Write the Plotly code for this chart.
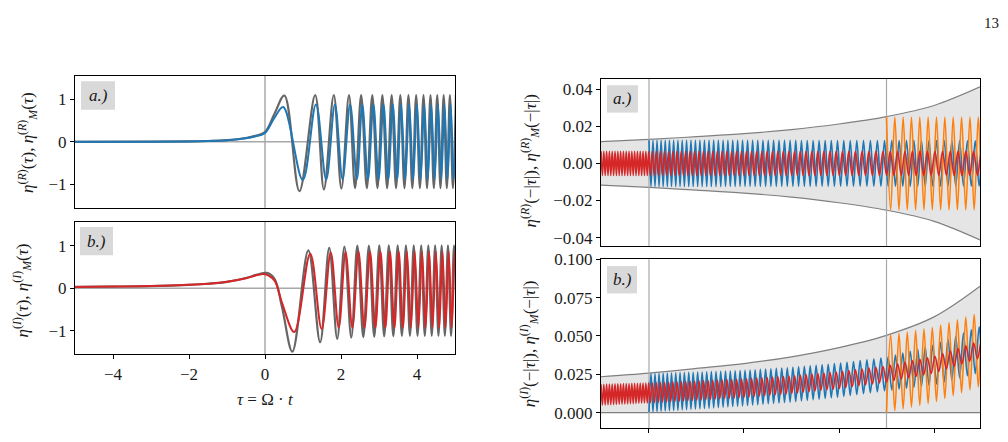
import numpy as np
import plotly.graph_objects as go

# ---------------- data ----------------
# Left panel a.) : curve points (mostly the extrema) of eta^(R) (gray) and eta_M^(R) (blue)
TAU_GRAY_A = [-5.0, -3.0, -2.0, -1.5, -1.0, -0.5, -0.25, 0.0, 0.25, 0.51, 0.905, 1.32, 1.55, 1.81, 2.01, 2.21,
              2.37, 2.53, 2.68, 2.823, 2.959, 3.089, 3.214, 3.333, 3.449, 3.561, 3.670, 3.775, 3.878, 3.978,
              4.076, 4.171, 4.264, 4.355, 4.444, 4.532, 4.618, 4.702, 4.785, 4.866, 4.946, 5.025]
ETA_GRAY_A = [0.0, 0.003, 0.01, 0.02, 0.04, 0.09, 0.14, 0.23, 0.66, 1.09, -1.16, 1.10, -1.12, 1.10, -1.10, 1.10,
              -1.09, 1.10, -1.09, 1.10, -1.09, 1.10, -1.09, 1.10, -1.09, 1.10, -1.09, 1.10, -1.09, 1.10,
              -1.09, 1.10, -1.09, 1.10, -1.09, 1.10, -1.09, 1.10, -1.09, 1.10, -1.09, 1.10]
TAU_BLUE_A = [-5.0, -3.0, -2.0, -1.5, -1.0, -0.5, -0.25, 0.0, 0.25, 0.48, 0.993, 1.34, 1.61, 1.84, 2.04, 2.24,
              2.42, 2.56, 2.71, 2.853, 2.989, 3.119, 3.244, 3.363, 3.479, 3.581, 3.690, 3.795, 3.898, 3.998,
              4.096, 4.191, 4.284, 4.375, 4.464, 4.552, 4.638, 4.722, 4.805, 4.886, 4.966, 5.045]
ETA_BLUE_A = [0.0, 0.003, 0.01, 0.02, 0.04, 0.085, 0.13, 0.21, 0.57, 0.82, -0.90, 0.88, -0.89, 0.88, -0.88, 0.88,
              -0.88, 0.88, -0.88, 0.88, -0.88, 0.88, -0.88, 0.88, -0.88, 0.88, -0.88, 0.88, -0.88, 0.88,
              -0.88, 0.88, -0.88, 0.88, -0.88, 0.88, -0.88, 0.88, -0.88, 0.88, -0.88, 0.88]

# Left panel b.) : eta^(I) (gray) and eta_M^(I) (red)
TAU_GRAY_B = [-5.0, -4.0, -3.0, -2.0, -1.5, -1.0, -0.5, -0.2, 0.05, 0.25, 0.45, 0.72, 1.14, 1.45, 1.69, 1.90,
              2.09, 2.27, 2.43, 2.587, 2.734, 2.874, 3.008, 3.136, 3.258, 3.377, 3.491, 3.602, 3.709, 3.814,
              3.915, 4.014, 4.111, 4.205, 4.298, 4.388, 4.477, 4.564, 4.649, 4.733, 4.815, 4.896, 4.975, 5.054]
ETA_GRAY_B = [0.03, 0.038, 0.05, 0.08, 0.105, 0.15, 0.24, 0.32, 0.36, 0.22, -0.45, -1.49, 0.89, -1.27, 0.95, -1.19,
              0.98, -1.16, 1.00, -1.15, 1.00, -1.14, 1.01, -1.13, 1.01, -1.13, 1.01, -1.12, 1.01, -1.12,
              1.01, -1.12, 1.01, -1.12, 1.01, -1.12, 1.01, -1.12, 1.01, -1.12, 1.01, -1.12, 1.01, -1.12]
TAU_RED_B = [-5.0, -4.0, -3.0, -2.0, -1.5, -1.0, -0.5, -0.2, 0.0, 0.25, 0.45, 0.77, 1.19, 1.49, 1.73, 1.94,
             2.12, 2.30, 2.46, 2.617, 2.764, 2.904, 3.038, 3.166, 3.288, 3.405, 3.519, 3.628, 3.735, 3.839,
             3.939, 4.036, 4.132, 4.225, 4.318, 4.408, 4.497, 4.584, 4.669, 4.752, 4.834, 4.915, 4.994, 5.072]
ETA_RED_B = [0.03, 0.038, 0.05, 0.08, 0.105, 0.15, 0.235, 0.31, 0.33, 0.18, -0.35, -1.03, 0.81, -0.96, 0.84, -0.93,
             0.85, -0.93, 0.86, -0.93, 0.86, -0.93, 0.86, -0.93, 0.86, -0.93, 0.86, -0.93, 0.86, -0.93,
             0.86, -0.93, 0.86, -0.93, 0.86, -0.93, 0.86, -0.93, 0.86, -0.93, 0.86, -0.93, 0.86, -0.93]

LEFT_XTICKS = [-4, -2, 0, 2, 4]
LEFT_XTEXT = ["\u22124", "\u22122", "0", "2", "4"]
LEFT_YTICKS = [-1, 0, 1]
LEFT_YTEXT = ["\u22121", "0", "1"]

# Right panels: envelope, oscillation periods and amplitudes
ENV_X = [-0.505, 0.0, 0.5, 1.0, 1.5, 2.0, 2.5, 3.0, 3.484]
ENV_E = [0.0117, 0.0129, 0.0144, 0.0160, 0.0182, 0.0212, 0.0252, 0.0312, 0.0412]
VLINES_X = [0.0, 2.5]

RED_START = -0.505
RED_PER_X = [-0.505, -0.01, 0.01, 1.0, 2.0, 2.5, 3.484]
RED_PER = [0.0295, 0.0295, 0.042, 0.0526, 0.0663, 0.0768, 0.0832]
BLUE_START = 0.0
BLUE_PER_X = [0.0, 1.0, 2.0, 2.5, 3.484]
BLUE_PER = [0.042, 0.0526, 0.0663, 0.0768, 0.0832]
ORANGE_START = 2.5
ORANGE_PER_X = [2.5, 3.484]
ORANGE_PER = [0.0874, 0.0884]

# amplitudes (panel a: centred on 0, panel b: centred on the envelope E)
RED_AMP_A_X, RED_AMP_A = [-0.505, 3.484], [0.0065, 0.0065]
BLUE_AMP_A_X, BLUE_AMP_A = [0.0, 3.484], [0.0125, 0.0122]
ORANGE_AMP_A_X, ORANGE_AMP_A = [2.5, 3.484], [0.025, 0.025]
RED_AMP_B_X, RED_AMP_B = [-0.505, 0.0, 2.5, 3.484], [0.0068, 0.0065, 0.0052, 0.0055]
BLUE_AMP_B_X, BLUE_AMP_B = [0.0, 1.0, 2.0, 2.5, 3.484], [0.0125, 0.0115, 0.011, 0.0108, 0.015]
ORANGE_AMP_B_X, ORANGE_AMP_B = [2.5, 3.484], [0.025, 0.024]

RIGHT_XTICKS = [0, 1, 2, 3]
RA_YTICKS = [-0.04, -0.02, 0.0, 0.02, 0.04]
RA_YTEXT = ["\u22120.04", "\u22120.02", "0.00", "0.02", "0.04"]
RB_YTICKS = [0.0, 0.025, 0.05, 0.075, 0.1]
RB_YTEXT = ["0.000", "0.025", "0.050", "0.075", "0.100"]

# ---------------- styles ----------------
W, H = 1008, 442
FONT = "Liberation Serif"
TXT = "#1a1a1a"
GRAY = "#666666"
BLUE = "#1f77b4"
RED = "#d62728"
ORANGE = "#ff7f0e"
ZERO = "#a8a8a8"
ENVC = "#808080"
FILLC = "#e5e5e5"


def px_x(x):
    return x / W


def px_y(y):
    return 1 - y / H


def extrema(start, per_x, per_v, amp_x, amp_v, centred, sign0, xend=3.6):
    xs = [start]
    while xs[-1] < xend:
        xs.append(xs[-1] + np.interp(xs[-1], per_x, per_v) / 2)
    xs = np.array(xs)
    signs = sign0 * (-1.0) ** np.arange(len(xs))
    amp = np.interp(xs, amp_x, amp_v)
    cen = np.interp(xs, ENV_X, ENV_E) if centred else 0.0
    return xs, cen + signs * amp


fig = go.Figure()

# ---- left panels
for xa, ya in (("x", "y"), ("x2", "y2")):
    fig.add_trace(go.Scatter(x=[-5, 5], y=[0, 0], mode="lines", line=dict(color=ZERO, width=1.5),
                             xaxis=xa, yaxis=ya, hoverinfo="skip"))
    fig.add_trace(go.Scatter(x=[0, 0], y=[-2, 2], mode="lines", line=dict(color=ZERO, width=1.5),
                             xaxis=xa, yaxis=ya, hoverinfo="skip"))
fig.add_trace(go.Scatter(x=TAU_GRAY_A, y=ETA_GRAY_A, mode="lines", line=dict(color=GRAY, width=2.2, shape="spline"),
                         xaxis="x", yaxis="y"))
fig.add_trace(go.Scatter(x=TAU_BLUE_A, y=ETA_BLUE_A, mode="lines", line=dict(color=BLUE, width=2.0, shape="spline"),
                         xaxis="x", yaxis="y"))
fig.add_trace(go.Scatter(x=TAU_GRAY_B, y=ETA_GRAY_B, mode="lines", line=dict(color=GRAY, width=2.2, shape="spline"),
                         xaxis="x2", yaxis="y2"))
fig.add_trace(go.Scatter(x=TAU_RED_B, y=ETA_RED_B, mode="lines", line=dict(color=RED, width=2.0, shape="spline"),
                         xaxis="x2", yaxis="y2"))

# ---- right panels
env = np.array(ENV_E)
for xa, ya, lower, upper in (("x3", "y3", -env, env), ("x4", "y4", 0 * env, 2 * env)):
    fig.add_trace(go.Scatter(x=ENV_X, y=lower, mode="lines", line=dict(color=ENVC, width=1.2, shape="spline"),
                             xaxis=xa, yaxis=ya, hoverinfo="skip"))
    fig.add_trace(go.Scatter(x=ENV_X, y=upper, mode="lines", line=dict(color=ENVC, width=1.2, shape="spline"),
                             fill="tonexty", fillcolor=FILLC, xaxis=xa, yaxis=ya, hoverinfo="skip"))
    for vx in VLINES_X:
        fig.add_trace(go.Scatter(x=[vx, vx], y=[-1, 1], mode="lines", line=dict(color=ZERO, width=1.2),
                                 xaxis=xa, yaxis=ya, hoverinfo="skip"))

series = [
    ("x3", "y3", BLUE, BLUE_START, BLUE_PER_X, BLUE_PER, BLUE_AMP_A_X, BLUE_AMP_A, False, 1),
    ("x3", "y3", ORANGE, ORANGE_START, ORANGE_PER_X, ORANGE_PER, ORANGE_AMP_A_X, ORANGE_AMP_A, False, 1),
    ("x3", "y3", RED, RED_START, RED_PER_X, RED_PER, RED_AMP_A_X, RED_AMP_A, False, 1),
    ("x4", "y4", BLUE, BLUE_START, BLUE_PER_X, BLUE_PER, BLUE_AMP_B_X, BLUE_AMP_B, True, -1),
    ("x4", "y4", ORANGE, ORANGE_START, ORANGE_PER_X, ORANGE_PER, ORANGE_AMP_B_X, ORANGE_AMP_B, True, -1),
    ("x4", "y4", RED, RED_START, RED_PER_X, RED_PER, RED_AMP_B_X, RED_AMP_B, True, 1),
]
for xa, ya, col, st, px_, pv, ax_, av, cen, s0 in series:
    xs, ys = extrema(st, px_, pv, ax_, av, cen, s0)
    fig.add_trace(go.Scatter(x=xs, y=ys, mode="lines", line=dict(color=col, width=1.6, shape="spline"),
                             xaxis=xa, yaxis=ya))

# ---- axes
axis_common = dict(showline=True, mirror=True, linecolor="black", linewidth=1.2, showgrid=False,
                   zeroline=False, tickcolor="black", ticklen=4, tickwidth=1,
                   tickfont=dict(family=FONT, size=17, color=TXT))
LX = [px_x(75), px_x(455)]
RX = [px_x(601), px_x(980)]
fig.update_layout(
    width=W, height=H, margin=dict(l=0, r=0, t=0, b=0), showlegend=False,
    plot_bgcolor="white", paper_bgcolor="white",
    xaxis=dict(domain=LX, range=[-5, 5], anchor="y", ticks="", showticklabels=False, **axis_common),
    yaxis=dict(domain=[px_y(203.3), px_y(68.3)], range=[-1.55, 1.555], anchor="x", ticks="outside",
               tickvals=LEFT_YTICKS, ticktext=LEFT_YTEXT, **axis_common),
    xaxis2=dict(domain=LX, range=[-5, 5], anchor="y2", ticks="outside", tickvals=LEFT_XTICKS,
                ticktext=LEFT_XTEXT, **axis_common),
    yaxis2=dict(domain=[px_y(353.3), px_y(217.7)], range=[-1.554, 1.563], anchor="x2", ticks="outside",
                tickvals=LEFT_YTICKS, ticktext=LEFT_YTEXT, **axis_common),
    xaxis3=dict(domain=RX, range=[-0.505, 3.484], anchor="y3", ticks="", showticklabels=False, **axis_common),
    yaxis3=dict(domain=[px_y(242.7), px_y(71.7)], range=[-0.0446, 0.0454], anchor="x3", ticks="outside",
                tickvals=RA_YTICKS, ticktext=RA_YTEXT, **axis_common),
    xaxis4=dict(domain=RX, range=[-0.505, 3.484], anchor="y4", ticks="outside", tickvals=RIGHT_XTICKS,
                showticklabels=False, **axis_common),
    yaxis4=dict(domain=[px_y(429), px_y(256)], range=[-0.0102, 0.1], anchor="x4", ticks="outside",
                tickvals=RB_YTICKS, ticktext=RB_YTEXT, **axis_common),
)

# ---- label boxes
boxes = [(81, 74, 115, 103, "a.)"), (80, 223, 113, 252, "b.)"),
         (607, 78, 638, 106, "a.)"), (607, 263, 637, 291, "b.)")]
shapes = []
annotations = []
for x0, y0, x1, y1, t in boxes:
    shapes.append(dict(type="rect", xref="paper", yref="paper", x0=px_x(x0), x1=px_x(x1), y0=px_y(y1), y1=px_y(y0),
                       fillcolor="#d9d9d9", line=dict(width=0), layer="above"))
    annotations.append(dict(xref="paper", yref="paper", x=px_x((x0 + x1) / 2), y=px_y((y0 + y1) / 2),
                            text="<i>%s</i>" % t, showarrow=False, xanchor="center", yanchor="middle",
                            font=dict(family=FONT, size=17, color=TXT)))

ylabels = [
    (28, 137, "<i>η</i><sup>(<i>R</i>)</sup>(<i>τ</i>), <i>η</i><sup>(<i>R</i>)</sup><sub><i>M</i></sub>(<i>τ</i>)"),
    (22, 288, "<i>η</i><sup>(<i>I</i>)</sup>(<i>τ</i>), <i>η</i><sup>(<i>I</i>)</sup><sub><i>M</i></sub>(<i>τ</i>)"),
    (530, 156, "<i>η</i><sup>(<i>R</i>)</sup>(−|<i>τ</i>|), <i>η</i><sup>(<i>R</i>)</sup><sub><i>M</i></sub>(−|<i>τ</i>|)"),
    (529, 343, "<i>η</i><sup>(<i>I</i>)</sup>(−|<i>τ</i>|), <i>η</i><sup>(<i>I</i>)</sup><sub><i>M</i></sub>(−|<i>τ</i>|)"),
]
for x, y, t in ylabels:
    annotations.append(dict(xref="paper", yref="paper", x=px_x(x), y=px_y(y), text=t, textangle=-90,
                            showarrow=False, xanchor="center", yanchor="middle",
                            font=dict(family=FONT, size=17, color=TXT)))
annotations.append(dict(xref="paper", yref="paper", x=px_x(265), y=px_y(400),
                        text="<i>τ</i> = Ω · <i>t</i>", showarrow=False, xanchor="center", yanchor="middle",
                        font=dict(family=FONT, size=17, color=TXT)))
annotations.append(dict(xref="paper", yref="paper", x=px_x(991), y=px_y(14), text="13", showarrow=False,
                        xanchor="center", yanchor="middle", font=dict(family=FONT, size=15, color=TXT)))
fig.update_layout(shapes=shapes, annotations=annotations)

fig.write_html("out.html")
